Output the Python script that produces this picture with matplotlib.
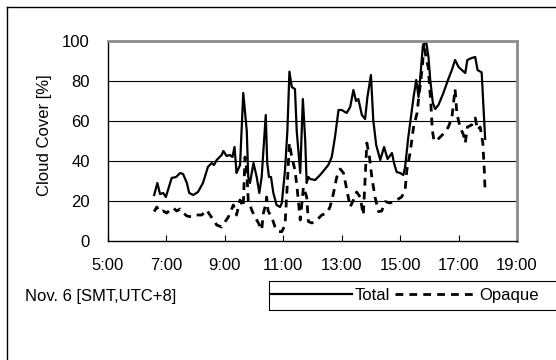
import matplotlib
matplotlib.use("Agg")
import matplotlib.pyplot as plt
from matplotlib.lines import Line2D
from matplotlib.patches import Rectangle
from matplotlib.ticker import FuncFormatter

plt.rcParams['font.family'] = ['Liberation Sans', 'DejaVu Sans']
plt.rcParams['font.size'] = 12

# time in decimal hours (local, UTC+8), cloud cover in %
total_t = [6.58, 6.69, 6.78, 6.89, 6.98, 7.18, 7.33, 7.47, 7.57, 7.70, 7.78, 7.92,
           8.08, 8.25, 8.42, 8.55, 8.63, 8.72, 8.89, 8.95, 9.06, 9.17, 9.26, 9.33,
           9.40, 9.46, 9.52, 9.63, 9.75, 9.80, 9.86, 9.98, 10.09, 10.18, 10.26,
           10.40, 10.45, 10.51, 10.58, 10.66, 10.77, 10.89, 10.95, 11.06, 11.14,
           11.21, 11.29, 11.34, 11.40, 11.46, 11.58, 11.67, 11.75, 11.80, 11.86,
           11.92, 12.09, 12.26, 12.43, 12.54, 12.66, 12.77, 12.89, 13.00, 13.17,
           13.29, 13.40, 13.49, 13.57, 13.69, 13.80, 13.88, 14.00, 14.08, 14.18,
           14.32, 14.45, 14.57, 14.72, 14.79, 14.88, 15.00, 15.11, 15.17, 15.28,
           15.46, 15.55, 15.63, 15.71, 15.78, 15.89, 15.97, 16.03, 16.12, 16.20,
           16.31, 16.48, 16.65, 16.77, 16.88, 17.00, 17.11, 17.23, 17.30, 17.45,
           17.57, 17.65, 17.79, 17.91]
total_v = [23, 29, 23.5, 24, 22, 31.5, 32, 34, 33.5, 29, 24, 23,
           24.5, 29, 37, 39, 38, 40.5, 43, 45, 42.5, 43, 42, 47,
           34, 36, 38, 74, 55, 32, 29, 39, 32, 24, 32,
           63, 39, 32, 32, 24, 18, 17, 19, 35.5, 55,
           84.7, 77, 76.5, 76, 55, 34, 71, 50.5, 29, 32,
           31, 30.5, 33, 36, 38, 42, 52, 65.5, 65.5, 64,
           67, 75.5, 70, 71, 63, 61, 72, 83, 60.5, 48,
           40.5, 47, 41, 44, 39, 34.5, 34, 33, 37, 52,
           72, 80.5, 72, 85.5, 98, 99.7, 92, 80.5, 69, 66,
           68, 74, 81, 85.5, 90.5, 87, 85.5, 84, 90.5, 91.5,
           92, 85.5, 84.3, 51]

opaque_t = [6.58, 6.67, 6.78, 6.89, 7.01, 7.12, 7.24, 7.35, 7.47, 7.58, 7.70, 7.87,
            8.03, 8.21, 8.38, 8.49, 8.61, 8.72, 8.89, 9.01, 9.12, 9.29, 9.40, 9.52,
            9.63, 9.69, 9.75, 9.80, 9.92, 10.03, 10.15, 10.26, 10.32, 10.41, 10.43,
            10.48, 10.60, 10.72, 10.83, 10.95, 11.06, 11.14, 11.21, 11.29, 11.40,
            11.48, 11.58, 11.69, 11.80, 11.86, 11.98, 12.15, 12.32, 12.49, 12.60,
            12.72, 12.83, 12.95, 13.06, 13.17, 13.29, 13.40, 13.51, 13.63, 13.74,
            13.86, 13.95, 14.03, 14.14, 14.26, 14.37, 14.49, 14.66, 14.88, 15.05,
            15.17, 15.23, 15.34, 15.46, 15.58, 15.63, 15.71, 15.77, 15.82, 15.88,
            15.96, 16.05, 16.10, 16.16, 16.27, 16.37, 16.51, 16.65, 16.77, 16.88,
            16.94, 17.05, 17.17, 17.23, 17.30, 17.45, 17.57, 17.65, 17.74, 17.83,
            17.88, 17.91]
opaque_v = [14.7, 17, 14.5, 15, 14, 15.5, 16.5, 15, 16, 14, 12.5, 12,
            13, 13, 15.5, 13, 10.5, 8, 7, 9.7, 12, 18, 13, 20.5,
            17, 42, 35, 20.5, 15.5, 12, 9, 5.5, 14, 19, 22,
            15, 12, 7, 4.7, 4.7, 8, 29, 49, 42, 35.5,
            25.5, 10.5, 27, 22, 9.7, 9, 10.5, 13, 14, 17,
            24, 32, 36, 34, 26, 17, 20.5, 24.5, 22, 13,
            49, 42, 32, 22, 14.7, 15, 19.7, 19, 20.5, 22,
            25.5, 35.5, 44, 57, 64, 71, 80.5, 89, 99, 92,
            87, 69, 55.5, 50, 50.5, 52, 54, 57, 61.5, 76,
            64, 57, 53, 49, 57, 58, 61.5, 55.5, 57, 49,
            35.5, 24]

xticks = [5, 7, 9, 11, 13, 15, 17, 19]
yticks = [0, 20, 40, 60, 80, 100]
dash = (2.8, 2.2)

fig = plt.figure(figsize=(5.56, 3.6), dpi=100)
ax = fig.add_axes([108/556, 1 - 241/360, 409/556, 200/360])

ax.plot(total_t, total_v, color='black', lw=1.6, label='Total')
ax.plot(opaque_t, opaque_v, color='black', lw=2.0, dashes=dash,
        label='Opaque')

ax.set_xlim(5, 19)
ax.set_ylim(0, 100)
ax.set_xticks(xticks)
ax.xaxis.set_major_formatter(FuncFormatter(lambda v, p: f"{int(v)}:00"))
ax.set_yticks(yticks)
for y in yticks[1:-1]:
    ax.axhline(y, color='black', lw=0.8, zorder=0)

ax.tick_params(axis='x', direction='in', length=4, width=0.8, pad=12)
ax.tick_params(axis='y', length=0, pad=13)
for s in ['left', 'bottom']:
    ax.spines[s].set_color('black')
    ax.spines[s].set_linewidth(1.0)
for s in ['top', 'right']:
    ax.spines[s].set_color('#8c8c8c')
    ax.spines[s].set_linewidth(2.0)

fig.text(45/556, 1 - 135/360, 'Cloud Cover [%]', rotation=90,
         ha='center', va='center')
fig.text(25/556, 1 - 297/360, 'Nov. 6 [SMT,UTC+8]', ha='left', va='center')

# legend box runs past the right edge of the picture
fig.add_artist(Rectangle((269/556, 1 - 310/360), 320/556, 29/360,
                         transform=fig.transFigure, fill=False,
                         edgecolor='black', lw=0.8))
handles = [Line2D([], [], color='black', lw=1.6),
           Line2D([], [], color='black', lw=2.0, dashes=dash)]
leg = fig.legend(handles, ['Total', 'Opaque'], ncol=2, loc='center left',
                 bbox_to_anchor=(267/556, 1 - 295.5/360), borderaxespad=0,
                 frameon=False, handlelength=4.9, handletextpad=0.15,
                 columnspacing=0.3, borderpad=0.2)

# outer chart border (only top and left edges fall inside the picture)
fig.add_artist(Line2D([6.5/556, 6.5/556], [0, 1 - 6.5/360], color='black',
                      lw=1.0, transform=fig.transFigure))
fig.add_artist(Line2D([6.5/556, 1], [1 - 6.5/360, 1 - 6.5/360], color='black',
                      lw=1.0, transform=fig.transFigure))

fig.savefig('out.png', dpi=100)
